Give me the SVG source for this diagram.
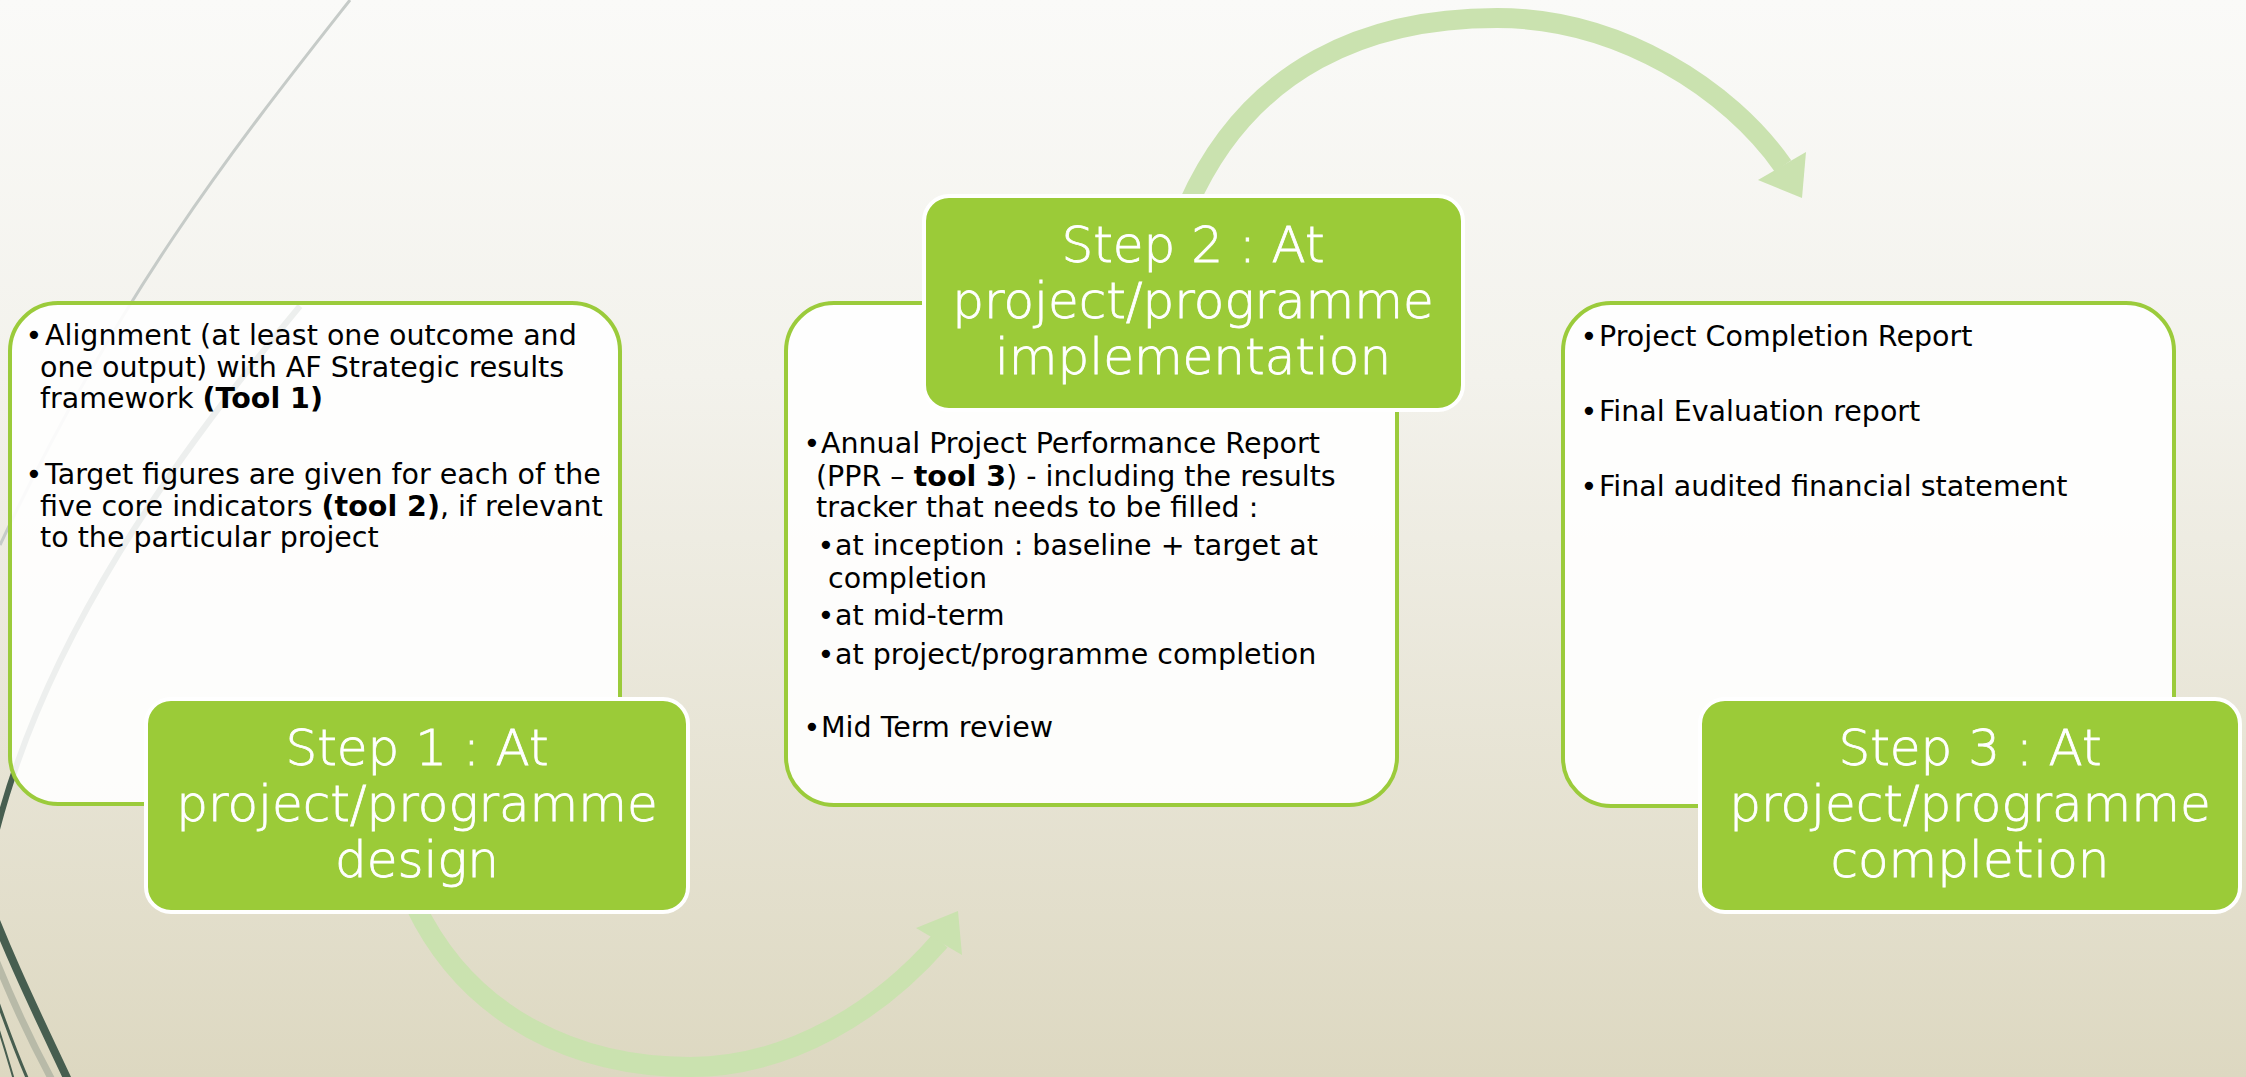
<svg xmlns="http://www.w3.org/2000/svg" width="2246" height="1077" viewBox="0 0 2246 1077">
<defs>
<linearGradient id="bg" x1="0" y1="0" x2="0" y2="1">
<stop offset="0" stop-color="#FAFAF8"/>
<stop offset="0.35" stop-color="#F3F2EC"/>
<stop offset="1" stop-color="#DDD8C1"/>
</linearGradient>
</defs>
<style>
.box{fill:#FFFFFF;fill-opacity:0.9;stroke:#9BCB3B;stroke-width:4}
.step{fill:#9BCB38;stroke:#FFFFFF;stroke-width:4}
.body{font-family:"DejaVu Sans",sans-serif;font-size:28.5px;fill:#000000}
.bul{text-anchor:middle}
.stept{font-family:"DejaVu Sans",sans-serif;font-size:50px;fill:#FFFFFF;text-anchor:middle;font-weight:300;stroke:#FFFFFF;stroke-width:0.8}
.b{font-weight:bold}
.arc{fill:none;stroke:#CAE2AF;stroke-width:20}
.head{fill:#CAE2AF}
.deco{fill:none}
</style>
<rect x="0" y="0" width="2246" height="1077" fill="url(#bg)"/>
<g id="decoration">
<path class="deco" d="M350,0 C240,140 120,290 0,545" stroke="#C6CBC8" stroke-width="3"/>
<path class="deco" d="M300,306 C180,450 40,640 -8,850" stroke="#475E50" stroke-width="6"/>
<path class="deco" d="M-25,905 C0,975 25,1030 52,1080" stroke="#B8BAA8" stroke-width="7"/>
<path class="deco" d="M-20,880 C10,960 40,1020 68,1080" stroke="#475E50" stroke-width="8"/>
<path class="deco" d="M-20,950 C0,1010 15,1050 28,1080" stroke="#475E50" stroke-width="3"/>
<path class="deco" d="M-15,990 C0,1030 8,1060 14,1080" stroke="#475E50" stroke-width="2"/>
</g>
<g id="connectors">
<path class="arc" d="M1188,205 C1250,65 1370,18 1497,18 C1620,18 1730,90 1783,166"/>
<polygon class="head" points="1806,152 1802,198 1758,180"/>
<path class="arc" d="M415,905 C470,1020 580,1067 690,1067 C790,1067 880,1010 940,941"/>
<polygon class="head" points="916,928 958,911 962,955"/>
</g>
<g id="node1">
<rect class="box" x="10" y="303" width="610" height="501" rx="48"/>
<text class="body bul" x="34" y="345">•</text>
<text class="body" x="45" y="345">Alignment (at least one outcome and</text>
<text class="body" x="40" y="377">one output) with AF Strategic results</text>
<text class="body" x="40" y="408">framework <tspan class="b">(Tool 1)</tspan></text>
<text class="body bul" x="34" y="484">•</text>
<text class="body" x="45" y="484">Target figures are given for each of the</text>
<text class="body" x="40" y="516">five core indicators <tspan class="b">(tool 2)</tspan>, if relevant</text>
<text class="body" x="40" y="547">to the particular project</text>
<rect class="step" x="146" y="699" width="542" height="213" rx="25"/>
<text class="stept" x="417" y="765">Step 1 : At</text>
<text class="stept" x="417" y="821">project/programme</text>
<text class="stept" x="417" y="877">design</text>
</g>
<g id="node2">
<rect class="box" x="786" y="303" width="611" height="502" rx="48"/>
<rect class="step" x="924" y="196" width="539" height="214" rx="25"/>
<text class="stept" x="1193" y="262">Step 2 : At</text>
<text class="stept" x="1193" y="318">project/programme</text>
<text class="stept" x="1193" y="374">implementation</text>
<text class="body bul" x="812" y="453">•</text>
<text class="body" x="821" y="453">Annual Project Performance Report</text>
<text class="body" x="816" y="486">(PPR – <tspan class="b">tool 3</tspan>) - including the results</text>
<text class="body" x="816" y="517">tracker that needs to be filled :</text>
<text class="body bul" x="826" y="555">•</text>
<text class="body" x="835" y="555">at inception : baseline + target at</text>
<text class="body" x="828" y="588">completion</text>
<text class="body bul" x="826" y="625">•</text>
<text class="body" x="835" y="625">at mid-term</text>
<text class="body bul" x="826" y="664">•</text>
<text class="body" x="835" y="664">at project/programme completion</text>
<text class="body bul" x="812" y="737">•</text>
<text class="body" x="821" y="737">Mid Term review</text>
</g>
<g id="node3">
<rect class="box" x="1563" y="303" width="611" height="503" rx="48"/>
<text class="body bul" x="1589" y="346">•</text>
<text class="body" x="1599" y="346">Project Completion Report</text>
<text class="body bul" x="1589" y="421">•</text>
<text class="body" x="1599" y="421">Final Evaluation report</text>
<text class="body bul" x="1589" y="496">•</text>
<text class="body" x="1599" y="496">Final audited financial statement</text>
<rect class="step" x="1700" y="699" width="540" height="213" rx="25"/>
<text class="stept" x="1970" y="765">Step 3 : At</text>
<text class="stept" x="1970" y="821">project/programme</text>
<text class="stept" x="1970" y="877">completion</text>
</g>
</svg>
